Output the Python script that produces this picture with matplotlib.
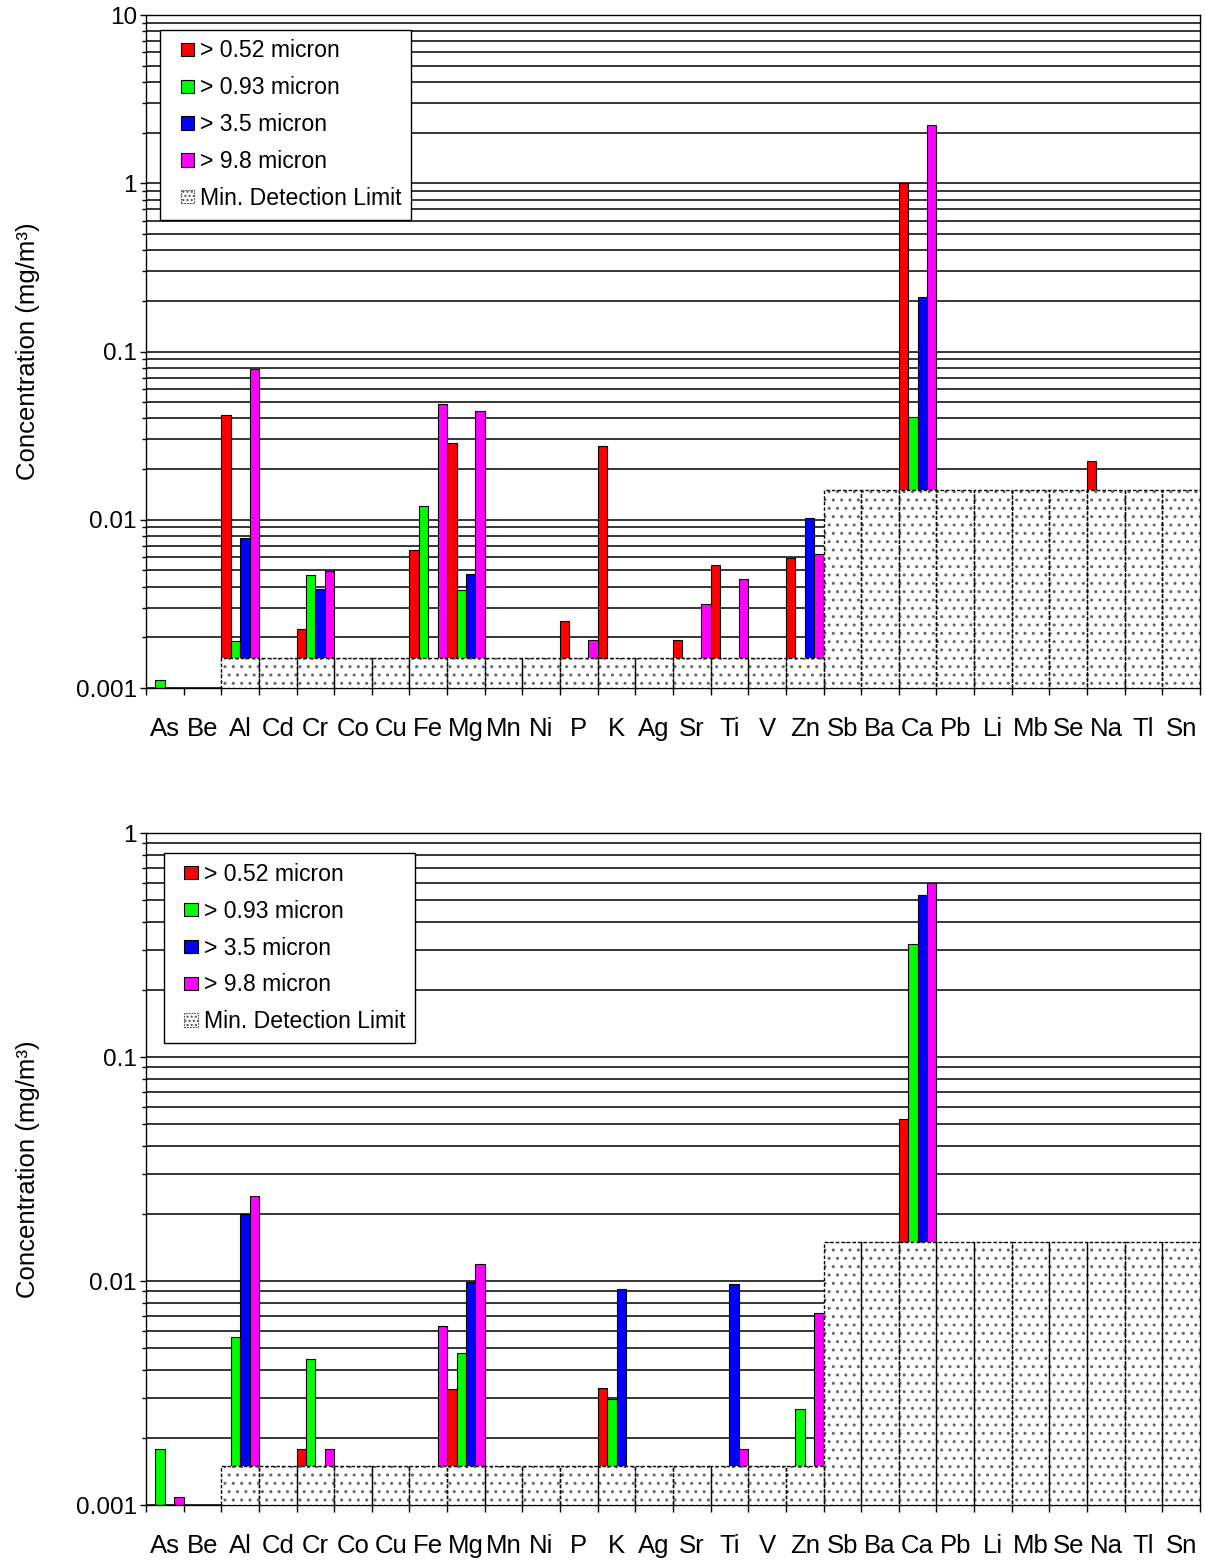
import numpy as np
import matplotlib
matplotlib.use('Agg')
import matplotlib.pyplot as plt
from matplotlib.ticker import LogLocator, FixedLocator, NullFormatter
from matplotlib.patches import Patch, Rectangle
from matplotlib.legend_handler import HandlerPatch

plt.rcParams['font.family'] = ['Liberation Sans', 'DejaVu Sans']
plt.rcParams['hatch.linewidth'] = 1.0

# elements along the x axis
elements = ['As', 'Be', 'Al', 'Cd', 'Cr', 'Co', 'Cu', 'Fe', 'Mg', 'Mn', 'Ni', 'P', 'K', 'Ag',
            'Sr', 'Ti', 'V', 'Zn', 'Sb', 'Ba', 'Ca', 'Pb', 'Li', 'Mb', 'Se', 'Na', 'Tl', 'Sn']
series_names = ['> 0.52 micron', '> 0.93 micron', '> 3.5 micron', '> 9.8 micron']
series_colors = ['#ff0000', '#00ff00', '#0000ff', '#ff00ff']

# minimum detection limit (mg/m3), 0 = none shown
mdl = [0, 0] + [0.0015] * 16 + [0.015] * 10

# top chart, one list per stage (0 = not detected / hidden)
top_052 = [0, 0, 0.042, 0, 0.00223, 0, 0, 0.0066, 0.0285, 0, 0, 0.0025, 0.0274, 0,
           0.00193, 0.0054, 0, 0.0059, 0, 0, 1.01, 0, 0, 0, 0, 0.0223, 0, 0]
top_093 = [0.00112, 0, 0.0019, 0, 0.0047, 0, 0, 0.0120, 0.00382, 0, 0, 0, 0, 0,
           0, 0, 0, 0, 0, 0, 0.041, 0, 0, 0, 0, 0, 0, 0]
top_35 = [0, 0, 0.0078, 0, 0.00386, 0, 0, 0, 0.00474, 0, 0, 0, 0, 0,
          0, 0, 0, 0.0102, 0, 0, 0.21, 0, 0, 0, 0, 0, 0, 0]
top_98 = [0, 0, 0.0784, 0, 0.00498, 0, 0, 0.0488, 0.0445, 0, 0, 0.00193, 0, 0,
          0.00314, 0.00444, 0, 0.00623, 0, 0, 2.23, 0, 0, 0, 0, 0, 0, 0]

# bottom chart
bot_052 = [0, 0, 0, 0, 0.00178, 0, 0, 0, 0.0033, 0, 0, 0, 0.00332, 0,
           0, 0, 0, 0, 0, 0, 0.0527, 0, 0, 0, 0, 0, 0, 0]
bot_093 = [0.00178, 0, 0.00562, 0, 0.00449, 0, 0, 0, 0.00476, 0, 0, 0, 0.00297, 0,
           0, 0, 0, 0.00267, 0, 0, 0.318, 0, 0, 0, 0, 0, 0, 0]
bot_35 = [0, 0, 0.0199, 0, 0, 0, 0, 0, 0.00987, 0, 0, 0, 0.0092, 0,
          0, 0.00967, 0, 0, 0, 0, 0.527, 0, 0, 0, 0, 0, 0, 0]
bot_98 = [0.00109, 0, 0.0239, 0, 0.00178, 0, 0, 0.0063, 0.0119, 0, 0, 0, 0, 0,
          0, 0.00178, 0, 0.00717, 0, 0, 0.596, 0, 0, 0, 0, 0, 0, 0]

YMIN = 0.001


# small square legend key, pushed to the right end of the handle box
def square_key(legend, orig_handle, xdescent, ydescent, width, height, fontsize):
	s = 0.58 * fontsize
	return Rectangle((-xdescent + width - s, -ydescent + (height - s) / 2), s, s)


def draw_panel(ax, stages, ymax, leg_anchor):
	x = np.arange(len(elements))
	w = 0.25
	for i, vals in enumerate(stages):
		v = np.array(vals, dtype=float)
		h = np.where(v > YMIN, v - YMIN, 0)
		ax.bar(x - 0.375 + i * w, h, w, bottom=YMIN, color=series_colors[i],
		       edgecolor='black', linewidth=0.8, zorder=2)
	# detection limit boxes drawn on top of the bars
	m = np.array(mdl, dtype=float)
	hm = np.where(m > 0, m - YMIN, 0)
	keep = m > 0
	ax.bar(x[keep], hm[keep], 1.0, bottom=YMIN, color='white', edgecolor='0.4',
	       linewidth=0, hatch='..', zorder=3)
	ax.bar(x[keep], hm[keep], 1.0, bottom=YMIN, fill=False, edgecolor='black',
	       linewidth=1.0, linestyle=(0, (2.5, 1.5)), zorder=4)

	ax.set_yscale('log')
	ax.set_ylim(YMIN, ymax)
	ax.set_xlim(-0.5, len(elements) - 0.5)
	ax.yaxis.set_minor_locator(LogLocator(base=10, subs=np.arange(2, 10)))
	ax.yaxis.set_minor_formatter(NullFormatter())
	exps = range(-3, int(np.log10(ymax)) + 1)
	ax.set_yticks([10.0 ** k for k in exps])
	ax.set_yticklabels(['%g' % (10.0 ** k) for k in exps])
	ax.grid(True, axis='y', which='both', color='black', linewidth=1.1, zorder=0)
	ax.set_axisbelow(True)

	# ticks at category boundaries, labels at centres
	ax.xaxis.set_major_locator(FixedLocator(np.arange(len(elements) + 1) - 0.5))
	ax.xaxis.set_major_formatter(NullFormatter())
	ax.xaxis.set_minor_locator(FixedLocator(x))
	ax.set_xticklabels(elements, minor=True)
	ax.tick_params(axis='x', which='major', direction='out', length=5, width=1)
	ax.tick_params(axis='x', which='minor', length=0, pad=21, labelsize=18.5)
	ax.tick_params(axis='y', which='major', direction='out', length=4, width=1,
	               labelsize=17.5, pad=2.5)
	ax.tick_params(axis='y', which='minor', direction='out', length=3, width=1)
	for s in ax.spines.values():
		s.set_linewidth(1.0)
		s.set_color('black')
	ax.set_ylabel('Concentration (mg/m³)', fontsize=18.5, labelpad=26)

	handles = [Patch(facecolor=c, edgecolor='black', linewidth=0.8) for c in series_colors]
	handles.append(Patch(facecolor='white', edgecolor='0.3', hatch='....',
	                     linewidth=0.8, linestyle=(0, (1.5, 1))))
	hmap = {h: HandlerPatch(patch_func=square_key) for h in handles}
	leg = ax.legend(handles, series_names + ['Min. Detection Limit'], loc='upper left',
	                bbox_to_anchor=leg_anchor, borderaxespad=0, fontsize=16.6,
	                handler_map=hmap, handlelength=1.05, handleheight=0.6,
	                handletextpad=0.25, labelspacing=0.6, borderpad=0.42,
	                fancybox=False, framealpha=1, edgecolor='black')
	leg.get_frame().set_linewidth(1.0)
	leg.set_zorder(10)


fig = plt.figure(figsize=(12.05, 15.62), dpi=100, facecolor='white')
ax1 = fig.add_axes([146 / 1205, 1 - 688 / 1562, 1054 / 1205, 673 / 1562])
ax2 = fig.add_axes([146 / 1205, 1 - 1505 / 1562, 1054 / 1205, 672 / 1562])

draw_panel(ax1, [top_052, top_093, top_35, top_98], 10, (0.0133, 0.978))
draw_panel(ax2, [bot_052, bot_093, bot_35, bot_98], 1, (0.017, 0.970))

fig.savefig('out.png', dpi=100, facecolor='white')
